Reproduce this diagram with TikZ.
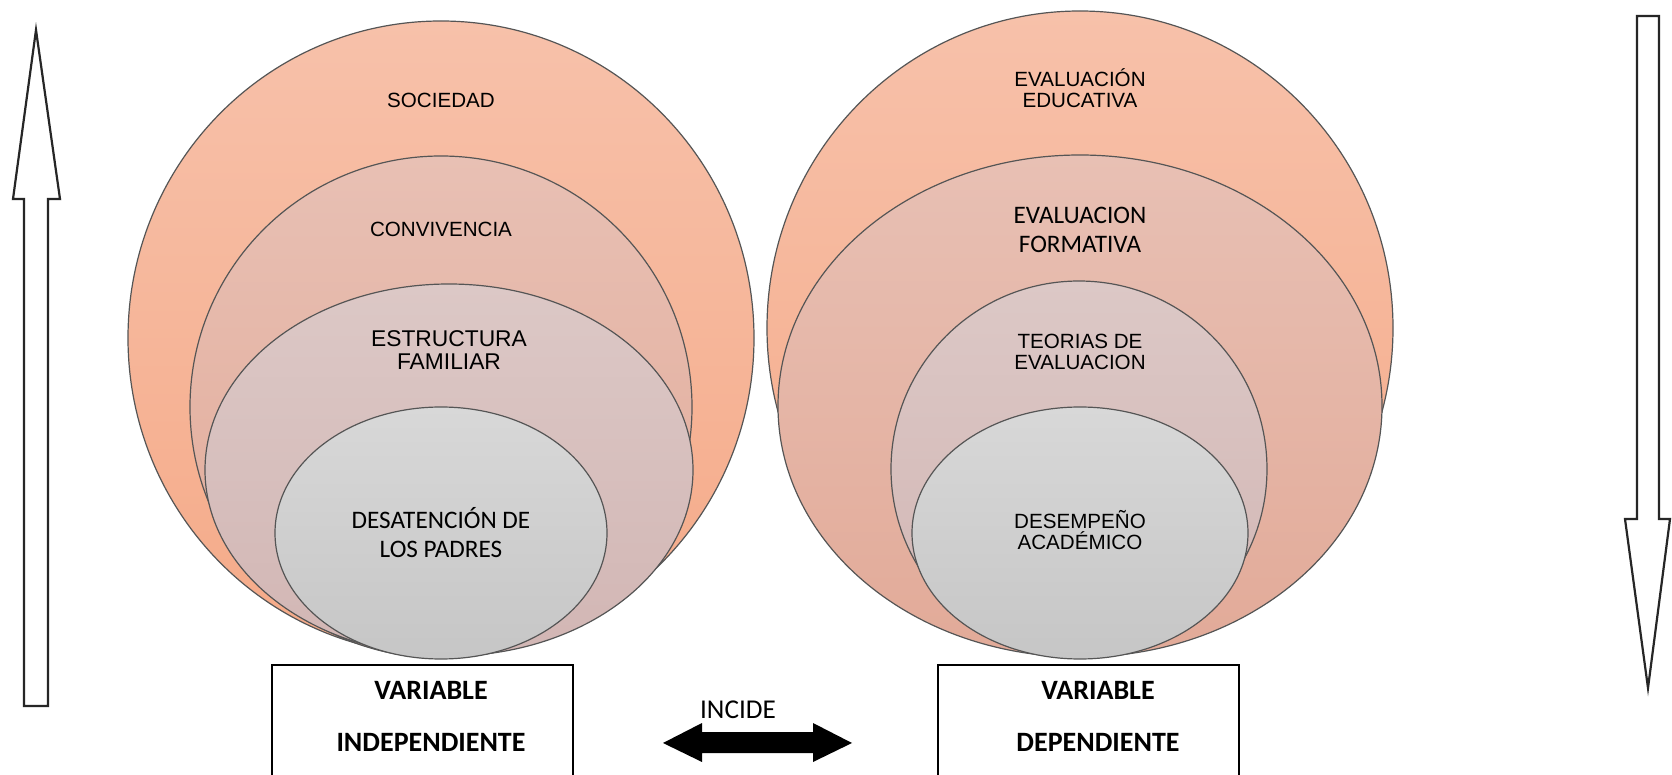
\documentclass[tikz,border=0pt]{standalone}
\usepackage{fontspec}
\setmainfont{Liberation Sans}
\newfontfamily\calibri{Carlito}
\usetikzlibrary{calc}
\usetikzlibrary{positioning}

\definecolor{outerT}{RGB}{247,193,170}
\definecolor{outerB}{RGB}{245,170,136}
\definecolor{midT}{RGB}{232,192,180}
\definecolor{midB}{RGB}{226,170,152}
\definecolor{innT}{RGB}{220,200,198}
\definecolor{innB}{RGB}{210,182,180}
\definecolor{coreT}{RGB}{216,216,216}
\definecolor{coreB}{RGB}{198,198,198}
\definecolor{rimgray}{RGB}{85,85,85}

\tikzset{
  ring/.style={draw=rimgray, line width=.6pt},
  arialtxt/.style={font=\fontsize{10.3}{10.5}\selectfont, align=center, inner sep=0},
  calibtxt/.style={font=\calibri\fontsize{12.6}{14.5}\selectfont, align=center, inner sep=0},
  vartxt/.style={font=\calibri\bfseries\fontsize{14}{26}\selectfont, align=center, inner sep=0},
  blockarrow/.style={draw=black!85, line width=1.1pt, fill=white}
}

\begin{document}
\begin{tikzpicture}[x=.5pt,y=-.5pt]
\useasboundingbox (0,0) rectangle (1672,775);
\fill[white] (0,0) rectangle (1672,775);
\foreach \cx/\cy/\rx/\ry/\ct/\cb in {
  441/338/313/317/outerT/outerB, 441/407/251/251/midT/midB,
  449/470/244/186/innT/innB, 441/533/166/126/coreT/coreB,
  1080/328/313/317/outerT/outerB, 1080/406/302/251/midT/midB,
  1079/469/188/188/innT/innB, 1080/533/168/126/coreT/coreB} {
 \draw[ring, top color=\ct, bottom color=\cb] (\cx,\cy) ellipse [x radius=\rx, y radius=\ry];
}
\node[arialtxt] (soc) at (441,100) {SOCIEDAD};
\node[arialtxt] (conv) at (441,229) {CONVIVENCIA};
\node[arialtxt, font=\fontsize{11.4}{11.5}\selectfont] (estr) at (449,350) {ESTRUCTURA\\FAMILIAR};
\node[calibtxt] (desat) at (441,533) {DESATENCIÓN DE\\LOS PADRES};
\node[arialtxt] (evaledu) at (1080,88) {EVALUACIÓN\\EDUCATIVA};
\node[calibtxt] (evalform) at (1080,230) {EVALUACION\\FORMATIVA};
\node[arialtxt] (teor) at (1080,352) {TEORIAS DE\\EVALUACION};
\node[arialtxt] (desemp) at (1080,530) {DESEMPEÑO\\ACADÉMICO};

\draw[black, line width=.8pt] (272,665) rectangle (573,800);
\draw[black, line width=.8pt] (938,665) rectangle (1239,800);
\node[vartxt] (vind) at (431,716) {VARIABLE\\INDEPENDIENTE};
\node[vartxt] (vdep) at (1098,716) {VARIABLE\\DEPENDIENTE};

\node[font=\calibri\fontsize{13.6}{14}\selectfont, inner sep=0] (incide) at (738,710) {INCIDE};
\fill[black] (663,743) -- (702,723) -- (702,732) -- (813,732) -- (813,723) -- (852,743)
  -- (813,762) -- (813,753) -- (702,753) -- (702,762) -- cycle;

\draw[blockarrow] (24,706) -- (24,199) -- (13,199) -- (36,30) -- (60,199) -- (48,199) -- (48,706) -- cycle;
\draw[blockarrow] (1637,16) -- (1637,519) -- (1625,519) -- (1648,688) -- (1670,519) -- (1659,519) -- (1659,16) -- cycle;
\end{tikzpicture}
\end{document}
